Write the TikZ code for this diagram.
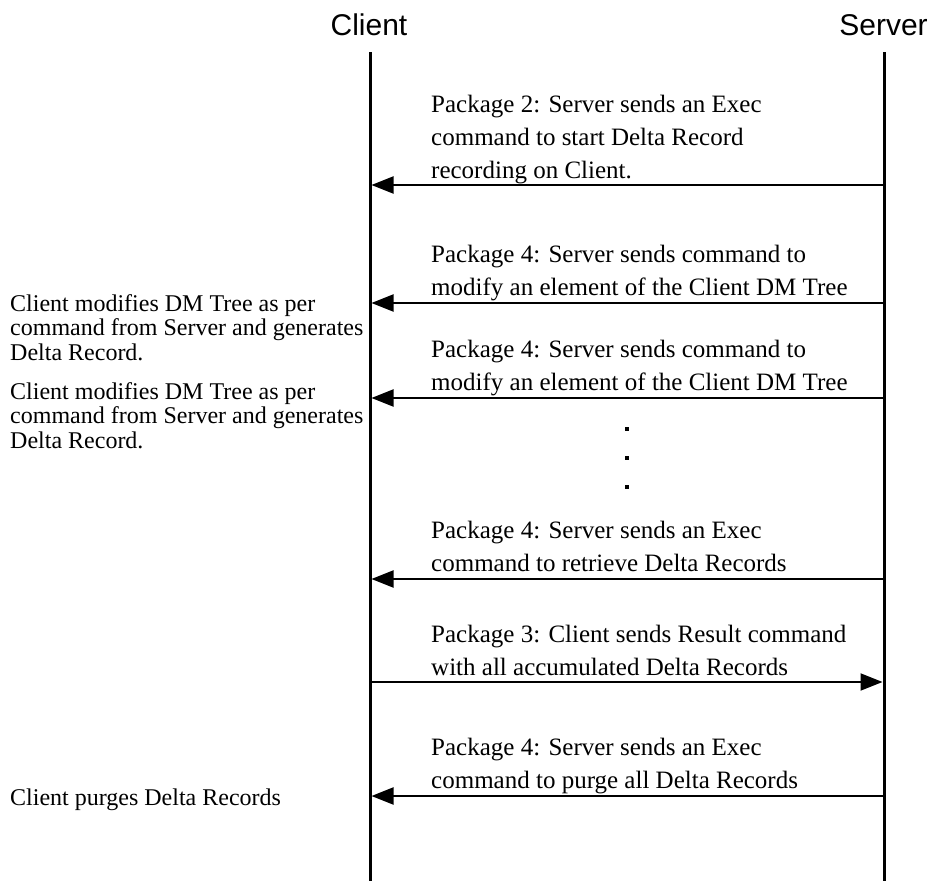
\documentclass[tikz,border=0pt]{standalone}
\usepackage{fontspec}
\setmainfont{Liberation Serif}
\newfontfamily\titlefont{Liberation Sans}
\usepackage{tikz}
\usetikzlibrary{arrows.meta}

\tikzset{
    lifeline/.style={line width=3pt},
    msg/.style={line width=2pt, -{Triangle[length=22pt,width=17pt]}},
    pkg/.style={anchor=base west, align=left, inner sep=0pt, font=\fontsize{25}{33}\selectfont},
    cnote/.style={anchor=base west, align=left, inner sep=0pt, font=\fontsize{24}{24.5}\selectfont},
    party/.style={anchor=base, inner sep=0pt, font=\titlefont\fontsize{30}{35}\selectfont}
}

\begin{document}
\begin{tikzpicture}[x=1pt, y=-1pt]
        \useasboundingbox (0,0) rectangle (933,881);
        %\draw[gray] (0,0) rectangle (933,881);
        \node[party] (client) at (369,35) {Client};
        \node[party] (server) at (883.5,35) {Server};
        \coordinate (ctop) at (370,52);
        \coordinate (cbot) at (370,881);
        \coordinate (stop) at (884,52);
        \coordinate (sbot) at (884,881);
        \draw[lifeline] (ctop) -- (cbot);
        \draw[lifeline] (stop) -- (sbot);
        \foreach \n/\y in {1/185, 2/303, 3/398, 4/579, 5/682, 6/796}{
            \coordinate (c\n) at (371.5,\y);
            \coordinate (s\n) at (882.5,\y);
        }
        % base anchor = baseline of the last line
        \node[pkg] (p1) at (431,178) {Package 2: Server sends an Exec\\command to start Delta Record\\recording on Client.};
        \draw[msg] (s1) -- (c1);
        \node[pkg] (p2) at (431,295) {Package 4: Server sends command to\\modify an element of the Client DM Tree};
        \draw[msg] (s2) -- (c2);
        \node[pkg] (p3) at (431,390) {Package 4: Server sends command to\\modify an element of the Client DM Tree};
        \draw[msg] (s3) -- (c3);
        \foreach \y in {429, 458, 487}
            \fill (625,\y-2) rectangle (629,\y+2);
        \node[pkg] (p4) at (431,571) {Package 4: Server sends an Exec\\command to retrieve Delta Records};
        \draw[msg] (s4) -- (c4);
        \node[pkg] (p5) at (431,675) {Package 3: Client sends Result command\\with all accumulated Delta Records};
        \draw[msg] (c5) -- (s5);
        \node[pkg] (p6) at (431,788) {Package 4: Server sends an Exec\\command to purge all Delta Records};
        \draw[msg] (s6) -- (c6);
        \node[cnote] (n1) at (10,360) {Client modifies DM Tree as per\\command from Server and generates\\Delta Record.};
        \node[cnote] (n2) at (10,448) {Client modifies DM Tree as per\\command from Server and generates\\Delta Record.};
        \node[cnote] (n3) at (10,805) {Client purges Delta Records};
    \end{tikzpicture}
\end{document}
